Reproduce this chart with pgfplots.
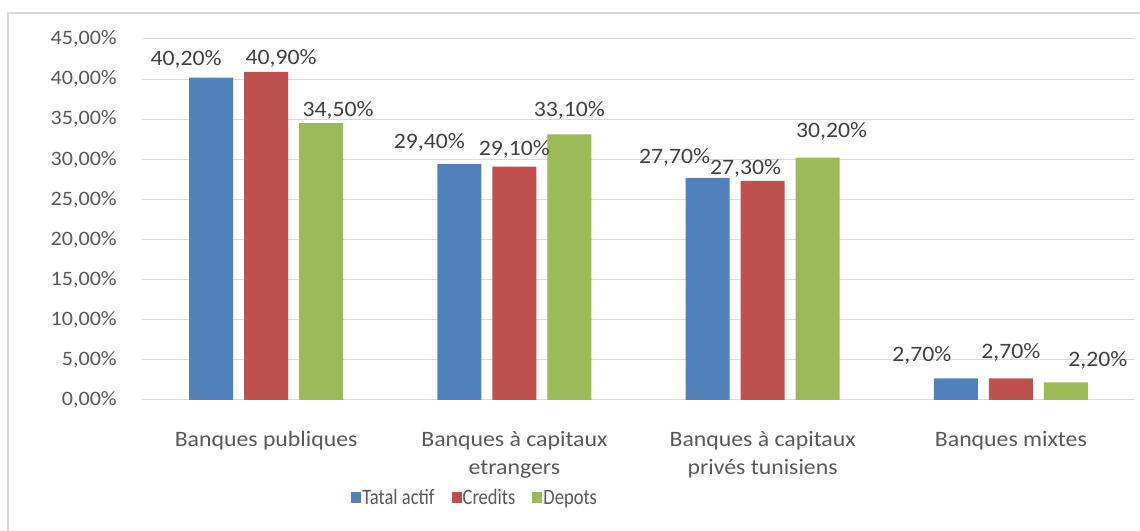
\documentclass[border=0pt]{standalone}
\usepackage{fontspec}
\setmainfont[FakeStretch=1.08]{Carlito}
\usepackage{pgfplots}
\usepackage{pgfplotstable}
\pgfplotsset{compat=1.18}
\definecolor{cblue}{HTML}{4F81BD}
\definecolor{cred}{HTML}{C0504D}
\definecolor{cgreen}{HTML}{9BBB59}
\definecolor{txt}{HTML}{595959}
\definecolor{lbl}{HTML}{404040}
\definecolor{gridc}{HTML}{D9D9D9}

\pgfplotstableread{
x y dx dy
0 40.2 -25 18
1 29.4 -30 22
2 27.7 -33 20
3 2.7 -34 23
}\tblA
\pgfplotstableread{
x y dx dy
0 40.9 15 13
1 29.1 0 17
2 27.3 -17 13
3 2.7 0 26
}\tblB
\pgfplotstableread{
x y dx dy
0 34.5 17 13
1 33.1 0 24
2 30.2 14 26
3 2.2 32 22
}\tblC

\newcommand{\leglab}[1]{\scalebox{0.78}[1]{#1}}

\begin{document}
\begin{tikzpicture}
\useasboundingbox (0,0) rectangle (1140pt,530pt);
\draw[gridc, line width=1.2pt] (8pt,-2pt) -- (8pt,517pt) -- (1142pt,517pt);
\begin{axis}[
  at={(142pt,130pt)}, anchor=south west,
  scale only axis, width=993pt, height=361pt,
  xmin=-0.5, xmax=3.5, ymin=0, ymax=45,
  ybar=11pt, bar width=44pt,
  axis line style={draw=none},
  major tick length=0pt,
  xmajorgrids=false, ymajorgrids=true,
  y grid style={gridc, line width=1pt},
  ytick={0,5,...,45},
  yticklabel={\pgfmathprintnumber[fixed,fixed zerofill,precision=2,use comma]{\tick}\%},
  /pgf/number format/assume math mode=true,
  yticklabel style={font=\fontsize{20.5}{24}\selectfont, text=txt, inner sep=0pt, xshift=-25pt},
  xtick={0,1,2,3},
  xticklabels={Banques publiques, {Banques à capitaux\\etrangers}, {Banques à capitaux\\privés tunisiens}, Banques mixtes},
  xticklabel style={font=\fontsize{22}{28}\selectfont, text=txt, align=center, inner sep=0pt, yshift=-31pt},
  nodes near coords={\pgfmathprintnumber[fixed,fixed zerofill,precision=2,use comma]{\pgfplotspointmeta}\%},
  visualization depends on={\thisrow{dx} \as \dx},
  visualization depends on={\thisrow{dy} \as \dy},
  every node near coord/.append style={font=\fontsize{22}{26}\selectfont, text=lbl, anchor=center, xshift=\dx pt, yshift=\dy pt},
  legend columns=3,
  legend style={at={(0.335,-0.271)}, anchor=center, draw=none, fill=none,
    font=\fontsize{22}{26}\selectfont, text=txt,
    /tikz/every even column/.append style={column sep=16pt},
    nodes={inner xsep=1pt, inner ysep=2pt}},
  legend image code/.code={\fill[#1] (0pt,-5.5pt) rectangle (10pt,5.5pt);},
  clip=false,
]
\addplot[fill=cblue, draw=none] table[x=x,y=y] {\tblA};
\addplot[fill=cred, draw=none] table[x=x,y=y] {\tblB};
\addplot[fill=cgreen, draw=none] table[x=x,y=y] {\tblC};
\legend{\leglab{Tatal actif}, \leglab{Credits}, \leglab{Depots}}
\end{axis}
\end{tikzpicture}
\end{document}
